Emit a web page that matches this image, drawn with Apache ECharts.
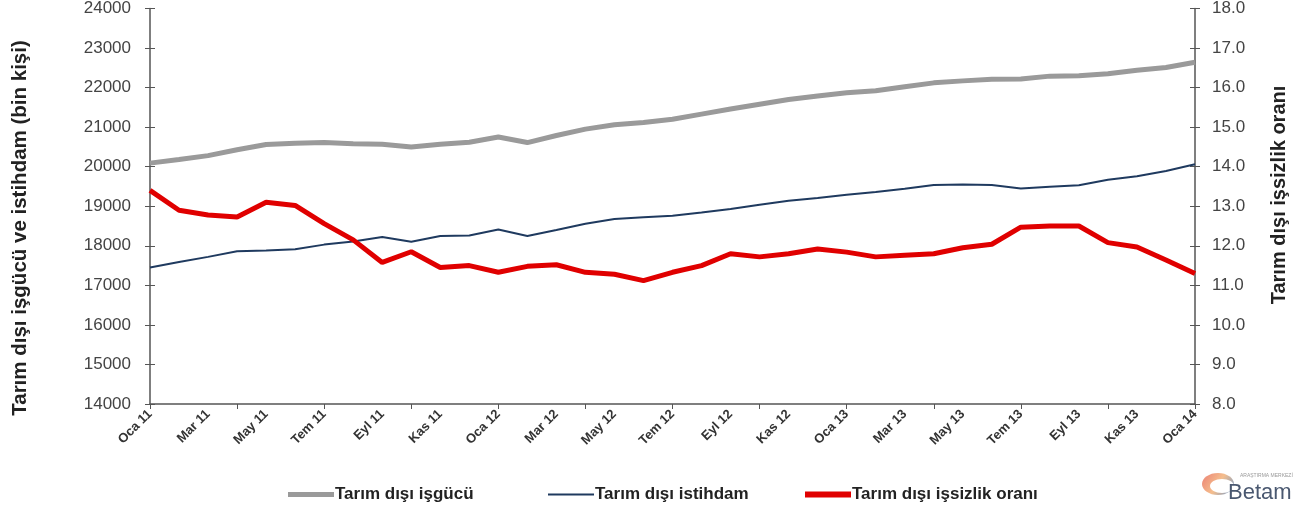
<!DOCTYPE html>
<html>
<head>
<meta charset="utf-8">
<script src="https://cdn.jsdelivr.net/npm/echarts@6/dist/echarts.min.js"></script>
<style>
html,body{margin:0;padding:0;background:#fff;}
#chart{width:1306px;height:513px;}
</style>
</head>
<body>
<div id="chart"></div>
<script>
const months = ["Oca 11","Şub 11","Mar 11","Nis 11","May 11","Haz 11","Tem 11","Ağu 11","Eyl 11","Eki 11","Kas 11","Ara 11",
"Oca 12","Şub 12","Mar 12","Nis 12","May 12","Haz 12","Tem 12","Ağu 12","Eyl 12","Eki 12","Kas 12","Ara 12",
"Oca 13","Şub 13","Mar 13","Nis 13","May 13","Haz 13","Tem 13","Ağu 13","Eyl 13","Eki 13","Kas 13","Ara 13","Oca 14"];

const isgucu = [20090,20180,20280,20430,20560,20590,20610,20580,20570,20500,20570,20620,
20750,20610,20790,20950,21060,21120,21200,21330,21460,21580,21700,21790,
21870,21920,22020,22120,22170,22210,22220,22290,22300,22350,22440,22510,22640];

const istihdam = [17450,17590,17720,17860,17880,17910,18030,18110,18220,18100,18250,18260,
18410,18250,18400,18560,18680,18720,18760,18840,18930,19040,19140,19210,
19290,19360,19440,19540,19550,19540,19450,19490,19530,19670,19760,19890,20060];

const issizlik = [13.4,12.9,12.78,12.73,13.1,13.02,12.56,12.15,11.58,11.85,11.45,11.5,
11.33,11.48,11.52,11.33,11.28,11.12,11.33,11.5,11.8,11.72,11.8,11.92,
11.84,11.72,11.76,11.8,11.95,12.04,12.47,12.5,12.5,12.08,11.97,11.64,11.3];

const seriesNames = ["Tarım dışı işgücü","Tarım dışı istihdam","Tarım dışı işsizlik oranı"];
const leftTitle = "Tarım dışı işgücü ve istihdam (bin kişi)";
const rightTitle = "Tarım dışı işsizlik oranı";

const FONT = "Liberation Sans, Arial, sans-serif";
const AX = "#555";

const chart = echarts.init(document.getElementById('chart'));
const legendBase = {
  orient:'horizontal', bottom: 5, itemWidth: 46, itemGap: 4,
  textStyle:{fontFamily:FONT, fontSize:17, fontWeight:'bold', color:'#222', padding:[0,0,0,-4]}
};
chart.setOption({
  animation:false,
  backgroundColor:'#fff',
  grid:{left:150, right:111, top:8, bottom:109},
  legend:[
    Object.assign({}, legendBase, {left:283, data:[{name:seriesNames[0], icon:'rect', itemStyle:{color:'#9a9a9a'}}], itemHeight:5}),
    Object.assign({}, legendBase, {left:543, data:[{name:seriesNames[1], icon:'rect', itemStyle:{color:'#1f3a5f'}}], itemHeight:2}),
    Object.assign({}, legendBase, {left:800, data:[{name:seriesNames[2], icon:'rect', itemStyle:{color:'#e00000'}}], itemHeight:6})
  ],
  xAxis:{
    type:'category', data:months, boundaryGap:false,
    axisLine:{lineStyle:{color:AX, width:1.5}},
    axisTick:{show:true, interval:2, length:5, inside:false, lineStyle:{color:AX}},
    axisLabel:{interval:1, rotate:45, fontFamily:FONT, fontSize:13, fontWeight:'bold', color:'#333', margin:8},
    splitLine:{show:false}
  },
  yAxis:[
    {type:'value', min:14000, max:24000, interval:1000, position:'left',
     axisLine:{show:true, lineStyle:{color:AX, width:1.5}},
     axisTick:{show:true, length:5, lineStyle:{color:AX}},
     axisLabel:{fontFamily:FONT, fontSize:17, color:'#444', margin:19, formatter:v=>String(v)},
     splitLine:{show:false}},
    {type:'value', min:8, max:18, interval:1, position:'right',
     axisLine:{show:true, lineStyle:{color:AX, width:1.5}},
     axisTick:{show:true, length:5, lineStyle:{color:AX}},
     axisLabel:{fontFamily:FONT, fontSize:17, color:'#444', margin:17, formatter:v=>v.toFixed(1)},
     splitLine:{show:false}},
    {type:'value', min:14000, max:24000, interval:1000, position:'left',
     axisLine:{show:false}, axisLabel:{show:false}, splitLine:{show:false},
     axisTick:{show:true, inside:true, length:5, lineStyle:{color:AX}}},
    {type:'value', min:8, max:18, interval:1, position:'right',
     axisLine:{show:false}, axisLabel:{show:false}, splitLine:{show:false},
     axisTick:{show:true, inside:true, length:5, lineStyle:{color:AX}}}
  ],
  series:[
    {name:seriesNames[0], type:'line', data:isgucu, yAxisIndex:0, showSymbol:false, symbol:'none',
     lineStyle:{color:'#9a9a9a', width:5}, itemStyle:{color:'#9a9a9a'}, z:2},
    {name:seriesNames[1], type:'line', data:istihdam, yAxisIndex:0, showSymbol:false, symbol:'none',
     lineStyle:{color:'#1f3a5f', width:2}, itemStyle:{color:'#1f3a5f'}, z:3},
    {name:seriesNames[2], type:'line', data:issizlik, yAxisIndex:1, showSymbol:false, symbol:'none',
     lineStyle:{color:'#e00000', width:5}, itemStyle:{color:'#e00000'}, z:4}
  ],
  graphic:[
    {type:'text', rotation:Math.PI/2, x:20, y:228,
     style:{text:leftTitle, font:'bold 20.5px '+FONT, fill:'#222', textAlign:'center', textVerticalAlign:'middle'}},
    {type:'text', rotation:Math.PI/2, x:1279, y:195,
     style:{text:rightTitle, font:'bold 20px '+FONT, fill:'#222', textAlign:'center', textVerticalAlign:'middle'}},
    {type:'ellipse', shape:{cx:1218, cy:484, rx:16, ry:11},
     style:{fill:new echarts.graphic.LinearGradient(0,0,1,1,[{offset:0,color:'#e86a5a'},{offset:0.5,color:'#f3b37a'},{offset:1,color:'#4f86c6'}]), opacity:0.85}},
    {type:'ellipse', shape:{cx:1222, cy:486, rx:12, ry:7}, style:{fill:'#fff'}},
    {type:'text', x:1228, y:493,
     style:{text:'Betam', font:'22px '+FONT, fill:'#4a5870', textVerticalAlign:'middle'}},
    {type:'text', x:1240, y:476,
     style:{text:'ARAŞTIRMA MERKEZİ', font:'5px '+FONT, fill:'#999', textVerticalAlign:'middle'}}
  ]
});
</script>
</body>
</html>
